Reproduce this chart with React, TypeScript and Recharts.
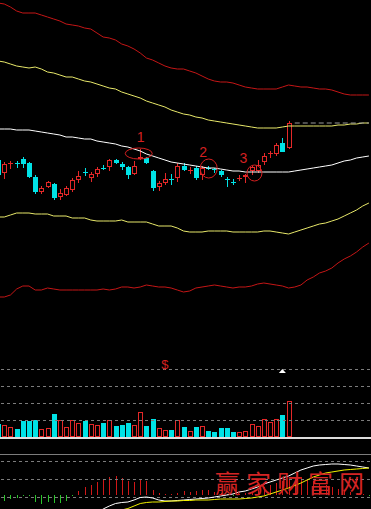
import React from 'react';
import { ComposedChart, Bar, Line, XAxis, YAxis, ReferenceLine, ReferenceDot } from 'recharts';

// daily candles, 48 sessions
const opens = [9.90, 9.77, 9.86, 9.87, 9.91, 9.87, 9.73, 9.58, 9.63, 9.66, 9.53, 9.55, 9.60, 9.70, 9.78, 9.72, 9.76, 9.82, 9.83, 9.90, 9.86, 9.83, 9.76, 9.91, 9.92, 9.79, 9.63, 9.67, 9.71, 9.72, 9.84, 9.79, 9.82, 9.75, 9.82, 9.81, 9.79, 9.71, 9.68, 9.71, 9.73, 9.79, 9.79, 9.88, 9.96, 9.96, 10.07, 10.02];
const highs = [9.91, 9.88, 9.89, 9.89, 9.93, 9.88, 9.75, 9.64, 9.69, 9.67, 9.61, 9.64, 9.72, 9.79, 9.82, 9.78, 9.83, 9.85, 9.91, 9.91, 9.88, 9.84, 9.89, 10.01, 9.93, 9.80, 9.69, 9.77, 9.76, 9.87, 9.87, 9.83, 9.84, 9.84, 9.84, 9.82, 9.80, 9.73, 9.71, 9.75, 9.76, 9.84, 9.90, 9.97, 9.99, 10.07, 10.12, 10.29];
const lows = [9.74, 9.71, 9.81, 9.82, 9.82, 9.72, 9.56, 9.56, 9.62, 9.50, 9.50, 9.54, 9.58, 9.67, 9.74, 9.68, 9.73, 9.80, 9.79, 9.86, 9.80, 9.71, 9.75, 9.90, 9.86, 9.59, 9.59, 9.65, 9.65, 9.68, 9.79, 9.76, 9.70, 9.70, 9.80, 9.77, 9.73, 9.63, 9.65, 9.69, 9.67, 9.75, 9.77, 9.85, 9.92, 9.94, 9.98, 10.01];
const closes = [9.75, 9.86, 9.87, 9.86, 9.86, 9.73, 9.58, 9.62, 9.68, 9.52, 9.57, 9.62, 9.70, 9.74, 9.77, 9.76, 9.81, 9.81, 9.90, 9.87, 9.83, 9.75, 9.84, 9.93, 9.87, 9.62, 9.67, 9.71, 9.70, 9.84, 9.80, 9.80, 9.72, 9.82, 9.81, 9.80, 9.75, 9.70, 9.67, 9.72, 9.75, 9.83, 9.85, 9.94, 9.97, 10.05, 9.98, 10.27];
// volume, thousand lots
const volumes = [13, 12, 10, 8, 16, 16, 17, 8, 9, 23, 17, 10, 17, 14, 16, 13, 12, 14, 17, 11, 12, 14, 12, 25, 11, 18, 9, 7, 7, 17, 10, 6, 10, 11, 6, 5, 9, 9, 5, 5, 6, 13, 11, 18, 15, 18, 22, 36];

// band lines run 13 slots past the last candle
const outerUp = [11.47, 11.46, 11.43, 11.39, 11.37, 11.37, 11.37, 11.35, 11.33, 11.31, 11.29, 11.26, 11.25, 11.24, 11.22, 11.21, 11.17, 11.13, 11.12, 11.10, 11.06, 11.04, 11.01, 10.97, 10.92, 10.90, 10.87, 10.84, 10.82, 10.81, 10.81, 10.79, 10.77, 10.74, 10.71, 10.69, 10.68, 10.68, 10.67, 10.65, 10.63, 10.62, 10.61, 10.61, 10.61, 10.61, 10.63, 10.65, 10.64, 10.63, 10.63, 10.62, 10.61, 10.61, 10.60, 10.58, 10.56, 10.55, 10.55, 10.55, 10.55];
const innerUp = [10.89, 10.88, 10.86, 10.84, 10.83, 10.82, 10.83, 10.81, 10.78, 10.77, 10.75, 10.73, 10.73, 10.71, 10.69, 10.68, 10.66, 10.64, 10.62, 10.61, 10.58, 10.56, 10.54, 10.52, 10.49, 10.47, 10.45, 10.43, 10.40, 10.38, 10.36, 10.35, 10.33, 10.32, 10.30, 10.29, 10.28, 10.27, 10.26, 10.25, 10.24, 10.23, 10.22, 10.22, 10.22, 10.22, 10.23, 10.24, 10.24, 10.24, 10.24, 10.24, 10.24, 10.24, 10.24, 10.25, 10.25, 10.26, 10.26, 10.27, 10.27];
const midLine = [10.21, 10.21, 10.21, 10.20, 10.20, 10.20, 10.19, 10.18, 10.17, 10.16, 10.15, 10.13, 10.13, 10.12, 10.11, 10.11, 10.09, 10.08, 10.07, 10.06, 10.04, 10.03, 10.01, 9.99, 9.96, 9.94, 9.92, 9.90, 9.88, 9.87, 9.86, 9.85, 9.84, 9.83, 9.82, 9.82, 9.81, 9.80, 9.79, 9.79, 9.78, 9.78, 9.78, 9.78, 9.78, 9.78, 9.78, 9.78, 9.79, 9.80, 9.81, 9.82, 9.83, 9.84, 9.85, 9.87, 9.89, 9.90, 9.92, 9.93, 9.94];
const innerDn = [9.33, 9.33, 9.35, 9.37, 9.37, 9.37, 9.36, 9.36, 9.36, 9.34, 9.34, 9.34, 9.32, 9.32, 9.32, 9.30, 9.29, 9.29, 9.29, 9.29, 9.30, 9.28, 9.28, 9.28, 9.28, 9.26, 9.24, 9.24, 9.24, 9.22, 9.19, 9.18, 9.18, 9.18, 9.19, 9.19, 9.19, 9.19, 9.18, 9.18, 9.18, 9.18, 9.18, 9.19, 9.19, 9.18, 9.17, 9.16, 9.18, 9.20, 9.22, 9.24, 9.26, 9.27, 9.29, 9.31, 9.34, 9.37, 9.40, 9.44, 9.47];
const outerDn = [8.53, 8.53, 8.55, 8.61, 8.64, 8.64, 8.60, 8.60, 8.62, 8.61, 8.60, 8.60, 8.60, 8.60, 8.60, 8.60, 8.60, 8.61, 8.60, 8.61, 8.63, 8.63, 8.62, 8.63, 8.65, 8.64, 8.63, 8.63, 8.62, 8.60, 8.58, 8.59, 8.62, 8.63, 8.64, 8.65, 8.64, 8.63, 8.62, 8.63, 8.63, 8.64, 8.66, 8.67, 8.66, 8.65, 8.64, 8.62, 8.63, 8.65, 8.70, 8.73, 8.77, 8.79, 8.82, 8.87, 8.91, 8.94, 8.98, 9.03, 9.07];

// lower indicator
const dif = [-0.45, -0.47, -0.48, -0.49, -0.49, -0.48, -0.48, -0.47, -0.47, -0.46, -0.44, -0.41, -0.38, -0.33, -0.28, -0.23, -0.18, -0.14, -0.11, -0.085, -0.075, -0.07, -0.05, -0.025, -0.02, -0.03, -0.05, -0.06, -0.06, -0.055, -0.05, -0.045, -0.04, -0.035, -0.03, -0.02, -0.01, 0, 0.01, 0.03, 0.04, 0.06, 0.08, 0.11, 0.13, 0.15, 0.17, 0.19, 0.22, 0.25, 0.27, 0.29, 0.30, 0.305, 0.31, 0.31, 0.305, 0.30, 0.29, 0.28, 0.27];
const dea = [-0.40, -0.42, -0.43, -0.44, -0.45, -0.45, -0.45, -0.45, -0.44, -0.43, -0.42, -0.40, -0.38, -0.36, -0.33, -0.30, -0.26, -0.23, -0.20, -0.17, -0.15, -0.135, -0.11, -0.085, -0.075, -0.07, -0.07, -0.065, -0.06, -0.06, -0.055, -0.055, -0.05, -0.05, -0.05, -0.045, -0.04, -0.04, -0.04, -0.04, -0.035, -0.03, -0.02, -0.01, 0.01, 0.03, 0.05, 0.07, 0.095, 0.12, 0.15, 0.18, 0.20, 0.22, 0.23, 0.24, 0.25, 0.255, 0.26, 0.265, 0.27];
const macd = [-0.04, -0.057, -0.04, -0.03, -0.01, -0.01, -0.07, -0.09, -0.073, -0.083, -0.083, -0.057, -0.01, 0.043, 0.077, 0.10, 0.127, 0.15, 0.177, 0.187, 0.167, 0.143, 0.127, 0.15, 0.143, 0.05, 0.017, 0.005, 0.005, 0.017, 0.037, 0.03, 0.04, 0.045, 0.045, 0.03, 0.02, 0.01, -0.005, 0.01, 0.02, 0.03, 0.05, 0.08, 0.10, 0.12, 0.14, 0.16, 0.17, 0.18, 0.16, 0.14, 0.12, 0.10, 0.08, 0.06, 0.05, 0.03, 0.02, 0.01, -0.005];

const RED = '#e42828';
const CYAN = '#00e2e6';
const BAND_RED = '#c41616';
const BAND_YELLOW = '#e8e86a';
const GRID = '#7c7c7c';

const rows = midLine.map((_, i) => ({
  i,
  open: opens[i] ?? null,
  high: highs[i] ?? null,
  low: lows[i] ?? null,
  close: closes[i] ?? null,
  vol: volumes[i] ?? null,
  outerUp: outerUp[i],
  innerUp: innerUp[i],
  mid: midLine[i],
  innerDn: innerDn[i],
  outerDn: outerDn[i],
  dif: dif[i],
  dea: dea[i],
  macd: macd[i],
}));

const lastClose = closes[closes.length - 1];

const CW = 377; // 61 slots
const CL = -5;

function Candle(props: any) {
  const { x, y, width, height, payload } = props;
  if (!payload || payload.high == null) return null;
  const { open, close, high, low } = payload;
  const top = Math.min(y, y + height);
  const h = Math.abs(height);
  const py = (v: number) => top + ((high - v) / (high - low)) * h;
  const c = Math.round(x + width / 2);
  const up = close >= open;
  const color = up ? RED : CYAN;
  const bTop = Math.round(py(Math.max(open, close)));
  const bBot = Math.round(py(Math.min(open, close)));
  const wTop = Math.round(py(high));
  const wBot = Math.round(py(low));
  if (bBot - bTop <= 1) {
    return (
      <g>
        <line x1={c + 0.5} x2={c + 0.5} y1={wTop} y2={wBot} stroke={color} />
        <line x1={c - 2} x2={c + 3} y1={bTop + 0.5} y2={bTop + 0.5} stroke={color} />
      </g>
    );
  }
  if (up) {
    return (
      <g>
        <line x1={c + 0.5} x2={c + 0.5} y1={wTop} y2={bTop} stroke={color} />
        <line x1={c + 0.5} x2={c + 0.5} y1={bBot} y2={wBot} stroke={color} />
        <rect x={c - 1.5} y={bTop + 0.5} width={4} height={bBot - bTop - 1} fill="#000" stroke={color} />
      </g>
    );
  }
  return (
    <g>
      <line x1={c + 0.5} x2={c + 0.5} y1={wTop} y2={wBot} stroke={color} />
      <rect x={c - 2} y={bTop} width={5} height={bBot - bTop} fill={color} />
    </g>
  );
}

function VolBar(props: any) {
  const { x, y, width, height, payload } = props;
  if (!payload || payload.vol == null) return null;
  const c = Math.round(x + width / 2);
  const top = Math.round(Math.min(y, y + height));
  const bot = Math.round(Math.max(y, y + height));
  if (payload.close >= payload.open) {
    return <rect x={c - 1.5} y={top + 0.5} width={4} height={bot - top - 1} fill="#000" stroke={RED} />;
  }
  return <rect x={c - 2} y={top} width={5} height={bot - top} fill={CYAN} />;
}

function MacdBar(props: any) {
  const { x, y, width, height, payload } = props;
  if (!payload) return null;
  const c = Math.round(x + width / 2) + 0.5;
  const a = Math.round(Math.min(y, y + height));
  const b = Math.round(Math.max(y, y + height));
  if (payload.macd >= 0) {
    return <line x1={c} x2={c} y1={b} y2={Math.min(a, b - 1)} stroke="#d01818" />;
  }
  return <line x1={c} x2={c} y1={a} y2={Math.max(b, a + 1)} stroke="#2cc42c" />;
}

const mark = (rx: number, ry: number, dx: number, label: string, ldx: number, ldy: number) => (p: any) => (
  <g>
    <ellipse cx={p.cx + dx} cy={p.cy} rx={rx} ry={ry} fill="none" stroke="#d42020" />
    <text x={p.cx + ldx} y={p.cy + ldy} fill="#d42020" fontSize={14} fontFamily="Liberation Sans" textAnchor="middle">
      {label}
    </text>
  </g>
);

export default function App() {
  return (
    <div style={{ position: 'absolute', left: 0, top: 0, width: 371, height: 509, background: '#000', overflow: 'hidden' }}>
      <div style={{ position: 'absolute', left: CL, top: 0 }}>
        <ComposedChart width={CW} height={350} data={rows} margin={{ top: 0, right: 0, bottom: 0, left: 0 }}>
          <XAxis dataKey="i" hide />
          <YAxis hide domain={[8, 11.5]} allowDataOverflow />
          <Line dataKey="outerUp" stroke={BAND_RED} dot={false} activeDot={false} isAnimationActive={false} strokeWidth={1} />
          <Line dataKey="innerUp" stroke={BAND_YELLOW} dot={false} activeDot={false} isAnimationActive={false} strokeWidth={1} />
          <Line dataKey="mid" stroke="#ffffff" dot={false} activeDot={false} isAnimationActive={false} strokeWidth={1} />
          <Line dataKey="innerDn" stroke={BAND_YELLOW} dot={false} activeDot={false} isAnimationActive={false} strokeWidth={1} />
          <Line dataKey="outerDn" stroke={BAND_RED} dot={false} activeDot={false} isAnimationActive={false} strokeWidth={1} />
          <ReferenceLine
            segment={[{ x: 48, y: lastClose }, { x: 60, y: lastClose }]}
            stroke="#9a9a9a"
            strokeDasharray="5 3"
          />
          <Bar
            dataKey={(d: any) => (d.high == null ? null : [d.low, d.high])}
            shape={Candle}
            activeBar={false}
            isAnimationActive={false}
          />
          <ReferenceDot x={23} y={9.965} r={0} shape={mark(13.5, 5.5, -1.5, '1', 0.5, -11.5)} />
          <ReferenceDot x={34} y={9.815} r={0} shape={mark(8.5, 9.5, 0.5, '2', -5, -11.5)} />
          <ReferenceDot x={41} y={9.77} r={0} shape={mark(7.5, 8, 3, '3', -8, -10)} />
        </ComposedChart>
      </div>

      <div style={{ position: 'absolute', left: CL, top: 352 }}>
        <ComposedChart width={CW} height={88} data={rows} margin={{ top: 0, right: 0, bottom: 0, left: 0 }}>
          <XAxis dataKey="i" hide />
          <YAxis hide domain={[-3, 85]} allowDataOverflow />
          <ReferenceLine y={67.5} stroke={GRID} strokeDasharray="3 3" />
          <ReferenceLine y={50.5} stroke={GRID} strokeDasharray="3 3" />
          <ReferenceLine y={33.5} stroke={GRID} strokeDasharray="3 3" />
          <ReferenceLine y={16.5} stroke={GRID} strokeDasharray="3 3" />
          <Bar dataKey="vol" shape={VolBar} activeBar={false} isAnimationActive={false} />
          <ReferenceLine y={-1} stroke="#dcdcdc" strokeWidth={2} />
          <ReferenceDot
            x={27}
            y={68}
            r={0}
            shape={(p: any) => (
              <text x={p.cx} y={p.cy} fill="#d42020" fontSize={13} fontFamily="Liberation Sans" textAnchor="middle">
                $
              </text>
            )}
          />
          <ReferenceDot
            x={46}
            y={68}
            r={0}
            shape={(p: any) => (
              <polygon points={`${p.cx},${p.cy} ${p.cx - 3.5},${p.cy + 4} ${p.cx + 3.5},${p.cy + 4}`} fill="#ffffff" />
            )}
          />
        </ComposedChart>
      </div>

      <div style={{ position: 'absolute', left: CL, top: 445 }}>
        <ComposedChart width={CW} height={100} data={rows} margin={{ top: 0, right: 0, bottom: 0, left: 0 }}>
          <XAxis dataKey="i" hide />
          <YAxis hide domain={[-0.5, 0.5]} allowDataOverflow />
          <ReferenceLine y={0.405} stroke={GRID} />
          <ReferenceLine y={0.335} stroke={GRID} strokeDasharray="3 3" />
          <ReferenceLine y={0.155} stroke={GRID} strokeDasharray="3 3" />
          <ReferenceLine y={-0.025} stroke={GRID} strokeDasharray="3 3" />
          <Bar dataKey="macd" shape={MacdBar} activeBar={false} isAnimationActive={false} />
          <Line dataKey="dif" stroke="#ffffff" dot={false} activeDot={false} isAnimationActive={false} strokeWidth={1} />
          <Line dataKey="dea" stroke="#f0f000" dot={false} activeDot={false} isAnimationActive={false} strokeWidth={1} />
        </ComposedChart>
      </div>

      <div
        style={{
          position: 'absolute',
          left: 215,
          top: 470,
          fontSize: 25,
          lineHeight: '25px',
          letterSpacing: 6,
          color: '#d42424',
          fontFamily: '"Noto Sans CJK SC"',
          whiteSpace: 'nowrap',
        }}
      >
        赢家财富网
      </div>
    </div>
  );
}
